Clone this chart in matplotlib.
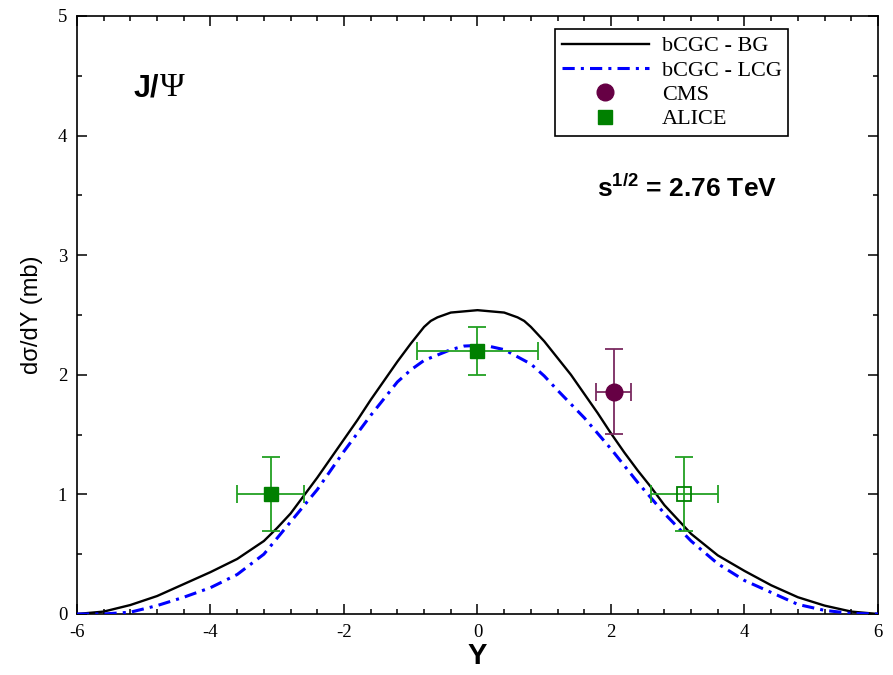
import numpy as np
import matplotlib.pyplot as plt
from matplotlib.lines import Line2D
from matplotlib.ticker import MultipleLocator

plt.rcParams['mathtext.fontset'] = 'custom'
plt.rcParams['mathtext.rm'] = 'Liberation Serif'
plt.rcParams['mathtext.bf'] = 'Liberation Sans:bold'
plt.rcParams['axes.unicode_minus'] = False

# bCGC - BG (solid black)
y_bg = [-6.0, -5.6, -5.2, -4.8, -4.4, -4.0, -3.6, -3.2, -3.0, -2.8, -2.6, -2.4, -2.2,
        -2.0, -1.8, -1.6, -1.4, -1.2, -1.0, -0.8, -0.7, -0.6, -0.5, -0.4, -0.2, 0.0,
        0.2, 0.4, 0.5, 0.6, 0.7, 0.8, 1.0, 1.2, 1.4, 1.6, 1.8, 2.0, 2.2, 2.4, 2.6,
        2.8, 3.0, 3.2, 3.6, 4.0, 4.4, 4.8, 5.2, 5.6, 6.0]
s_bg = [0.0, 0.02, 0.075, 0.15, 0.25, 0.35, 0.46, 0.61, 0.72, 0.84, 0.99, 1.14, 1.30,
        1.46, 1.62, 1.79, 1.95, 2.11, 2.26, 2.40, 2.45, 2.48, 2.50, 2.52, 2.53, 2.54,
        2.53, 2.52, 2.50, 2.48, 2.45, 2.40, 2.28, 2.14, 2.00, 1.84, 1.68, 1.51, 1.35, 1.20, 1.06,
        0.91, 0.79, 0.67, 0.49, 0.36, 0.24, 0.14, 0.07, 0.02, 0.0]

# bCGC - LCG (blue dash-dot)
y_lcg = [-6.0, -5.6, -5.2, -4.8, -4.4, -4.0, -3.6, -3.2, -2.8, -2.4, -2.0, -1.6, -1.2,
         -1.0, -0.8, -0.4, -0.2, 0.0, 0.2, 0.4, 0.8, 1.0, 1.2, 1.6, 2.0, 2.4, 2.8, 3.2,
         3.6, 4.0, 4.4, 4.8, 5.2, 5.6, 6.0]
s_lcg = [0.0, 0.0, 0.015, 0.07, 0.14, 0.22, 0.33, 0.50, 0.77, 1.04, 1.36, 1.66, 1.94,
         2.04, 2.12, 2.21, 2.24, 2.245, 2.235, 2.21, 2.09, 1.99, 1.87, 1.64, 1.38, 1.10,
         0.84, 0.61, 0.42, 0.28, 0.18, 0.08, 0.03, 0.005, 0.0]

# CMS
cms_y = [2.04]
cms_s = [1.86]
cms_xerr = [0.26]
cms_yerr = [0.355]

# ALICE (filled: measured, open: reflected)
alice_y = [-3.1, 0.0]
alice_s = [1.0, 2.2]
alice_xerr = [0.5, 0.9]
alice_yerr = [0.31, 0.2]
alice_refl_y = [3.1]
alice_refl_s = [1.0]
alice_refl_xerr = [0.5]
alice_refl_yerr = [0.31]

fig = plt.figure(figsize=(8.93, 6.75), dpi=100)
ax = fig.add_axes([0.0862, 0.0904, 0.897, 0.886])

ax.plot(y_bg, s_bg, color='black', lw=1.7, zorder=3)
ax.plot(y_lcg, s_lcg, color='#0000ff', lw=2.2, linestyle=(0, (4, 2, 1, 2)), zorder=3)

green = '#008000'
ax.errorbar(alice_y, alice_s, xerr=alice_xerr, yerr=alice_yerr, fmt='s', ms=10,
            color=green, ecolor='#22a022', elinewidth=1.3, capsize=6.5, capthick=1.3, zorder=4)
ax.errorbar(alice_refl_y, alice_refl_s, xerr=alice_refl_xerr, yerr=alice_refl_yerr, fmt='s',
            ms=9.5, mfc='none', mec=green, mew=1.3, color=green, ecolor='#22a022',
            elinewidth=1.3, capsize=6.5, capthick=1.3, zorder=4)
ax.errorbar(cms_y, cms_s, xerr=cms_xerr, yerr=cms_yerr, fmt='o', ms=12,
            color='#660044', ecolor='#7a2a60', elinewidth=1.3, capsize=6.5, capthick=1.3, zorder=4)

ax.set_xlim(-6, 6)
ax.set_ylim(0, 5)
ax.xaxis.set_major_locator(MultipleLocator(2))
ax.xaxis.set_minor_locator(MultipleLocator(0.4))
ax.yaxis.set_major_locator(MultipleLocator(1))
ax.yaxis.set_minor_locator(MultipleLocator(0.5))
ax.tick_params(which='both', direction='in', top=True, right=True, width=1.1)
ax.tick_params(which='major', length=7)
ax.tick_params(which='minor', length=3.5)
ax.tick_params(axis='x', pad=7)
ax.tick_params(axis='y', pad=7)
for lab in ax.get_xticklabels() + ax.get_yticklabels():
    lab.set_fontfamily('Liberation Serif')
    lab.set_fontsize(13.5)
for sp in ax.spines.values():
    sp.set_linewidth(1.2)

ax.set_xlabel('Y', fontfamily='Liberation Sans', fontweight='bold', fontsize=21, labelpad=1)
ax.set_ylabel('dσ/dY (mb)', fontfamily='Liberation Sans', fontsize=17, labelpad=11)

ax.text(0.07, 0.866, 'J/', transform=ax.transAxes, fontfamily='Liberation Sans',
        fontweight='bold', fontsize=22, va='baseline')
ax.text(0.104, 0.866, 'Ψ', transform=ax.transAxes, fontfamily='Liberation Serif',
        fontsize=24, va='baseline')
ax.text(0.649, 0.697, r'$\mathbf{s^{1/2}}$ = 2.76 TeV', transform=ax.transAxes,
        fontfamily='Liberation Sans', fontweight='bold', fontsize=19, va='baseline')

handles = [
    Line2D([], [], color='black', lw=1.7),
    Line2D([], [], color='#0000ff', lw=2.2, linestyle=(0, (4, 2, 1, 2))),
    Line2D([], [], color='#660044', marker='o', ls='none', ms=12),
    Line2D([], [], color=green, marker='s', ls='none', ms=10),
]
labels = ['bCGC - BG', 'bCGC - LCG', 'CMS', 'ALICE']
leg = ax.legend(handles, labels, loc='upper left', bbox_to_anchor=(0.597, 0.978),
                prop={'family': 'Liberation Serif', 'size': 16}, frameon=True,
                fancybox=False, edgecolor='black', framealpha=1, handlelength=3.9,
                labelspacing=0.17, borderpad=0.3, handletextpad=0.6, borderaxespad=0)
leg.get_frame().set_linewidth(1.2)

fig.savefig('out.png', dpi=100)
